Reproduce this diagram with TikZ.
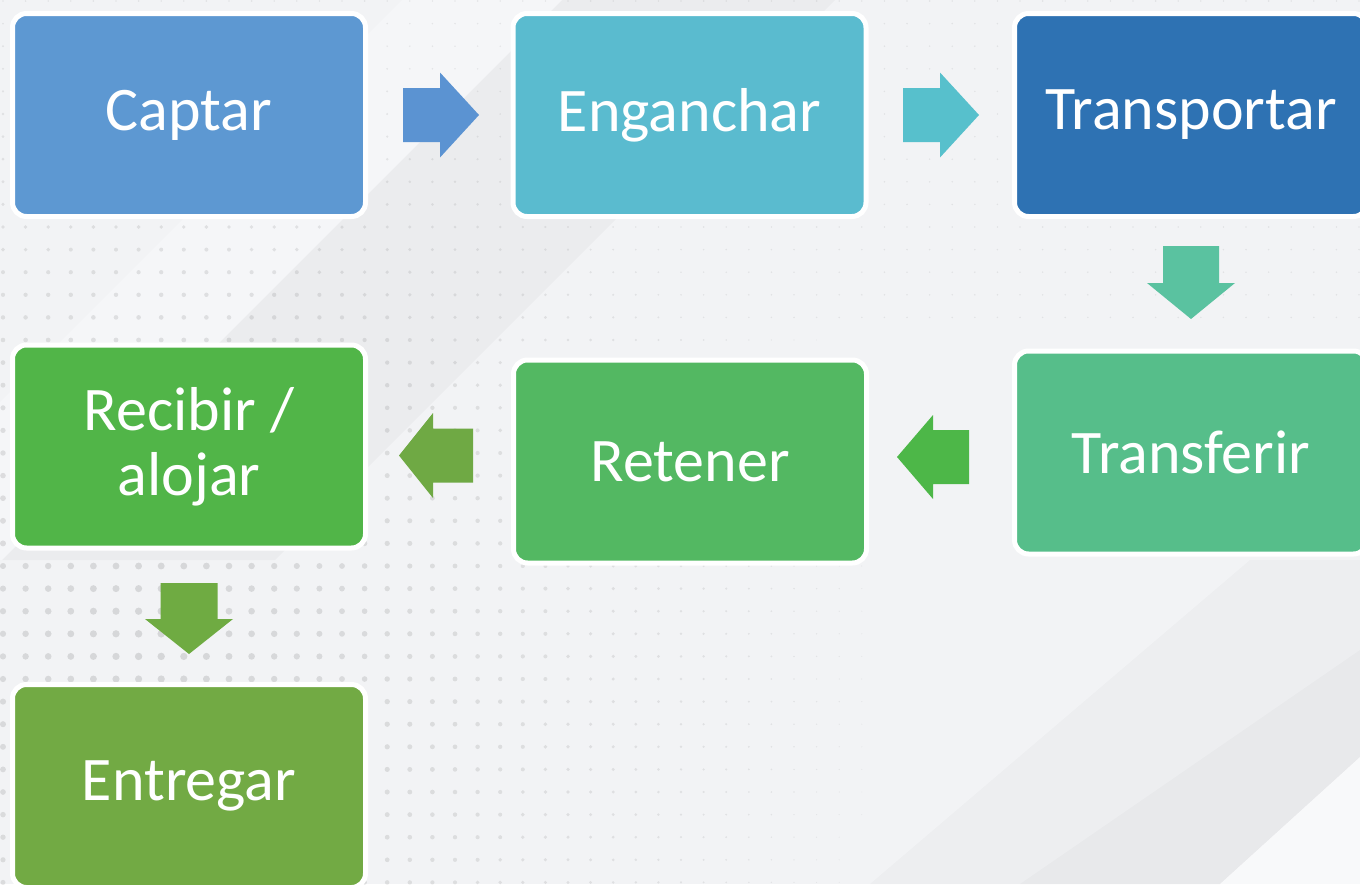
\documentclass[tikz,border=0pt]{standalone}
\usepackage{fontspec}
\setmainfont{Carlito}
\usetikzlibrary{calc}
\definecolor{bg}{HTML}{F2F3F5}
\definecolor{capC}{HTML}{5D98D2}
\definecolor{engC}{HTML}{5ABBCF}
\definecolor{traC}{HTML}{2E72B3}
\definecolor{trfC}{HTML}{56BE8A}
\definecolor{retC}{HTML}{53B862}
\definecolor{recC}{HTML}{51B548}
\definecolor{entC}{HTML}{72AA44}
\definecolor{arA}{HTML}{5B93D2}
\definecolor{arB}{HTML}{57C0CC}
\definecolor{arC}{HTML}{5AC2A0}
\definecolor{arD}{HTML}{4DB748}
\definecolor{arE}{HTML}{6FA944}
\definecolor{arF}{HTML}{6FAB42}
% #1 start, #2 tip, #3 colour, #4 shaft half width, #5 head half width, #6 head length
\newcommand\blockarrow[6]{%
  \coordinate (ba-n) at ($(#2)!#6pt!(#1)$);
  \fill[#3] ($(#1)!#4pt!90:(#2)$) -- ($(ba-n)!#4pt!-90:(#1)$) -- ($(ba-n)!#5pt!-90:(#1)$)
    -- (#2) -- ($(ba-n)!#5pt!90:(#1)$) -- ($(ba-n)!#4pt!90:(#1)$) -- ($(#1)!#4pt!-90:(#2)$) -- cycle;}
\begin{document}
\begin{tikzpicture}[x=1pt,y=-1pt,
  stepbox/.style={rectangle, rounded corners=14pt, draw=white, line width=5pt,
    minimum width=353pt, minimum height=203pt, text=white, inner sep=0pt,
    font=\fontsize{62}{65}\selectfont, align=center}]
\useasboundingbox (0,0) rectangle (1360,884);
\begin{scope}
\clip (0,0) rectangle (1360,884);
\fill[bg] (0,0) rectangle (1360,884);
% subtle diagonal bands
\fill[white, fill opacity=0.3] (402,0) -- (562,0) -- (2,560) -- (-158,560) -- cycle;
\fill[black, fill opacity=0.028] (562,0) -- (835,0) -- (275,560) -- (2,560) -- cycle;
\fill[black, fill opacity=0.02] (1250,560) -- (1360,560) -- (1360,757) -- (1220,884) -- (870,884) -- cycle;
\fill[black, fill opacity=0.02] (1360,650) -- (1360,757) -- (1220,884) -- (1020,884) -- cycle;
\fill[white, fill opacity=0.5] (1360,757) -- (1360,884) -- (1220,884) -- cycle;
% dot grid
\foreach \i in {0,...,60}{
  \foreach \j in {0,...,39}{
    \pgfmathsetmacro\xx{3+22.6*\i}
    \pgfmathsetmacro\yy{1+22.6*\j}
    \pgfmathsetmacro\dd{veclen(\xx-150,\yy-640)}
    \pgfmathsetmacro\rr{\yy<340 ? max(3.8-0.0045*\dd,0.9) : 3.8-0.0045*\dd}
    \pgfmathsetmacro\oo{0.05+0.018*\rr}
    \ifdim\rr pt>0.5pt
      \fill[black, fill opacity=\oo] (\xx,\yy) circle[radius=\rr pt];
    \fi
  }
}
% boxes
\node[stepbox, fill=capC] (cap) at (189,115) {Captar};
\node[stepbox, fill=engC] (eng) at (689.5,115) {Enganchar};
\node[stepbox, fill=traC] (tra) at (1191,115) {Transportar};
\node[stepbox, fill=trfC] (trf) at (1191,452.5) {Transferir};
\node[stepbox, fill=retC] (ret) at (690,461.5) {Retener};
\node[stepbox, fill=recC] (rec) at (189,446.5) {Recibir /\\alojar};
\node[stepbox, fill=entC] (ent) at (189,786) {Entregar};
% connectors (block arrows)
\coordinate (a1s) at ($(cap.east)+(35,0)$);
\coordinate (a1t) at ($(eng.west)+(-31.5,0)$);
\blockarrow{a1s}{a1t}{arA}{27}{42.5}{39}
\coordinate (a2s) at ($(eng.east)+(34.5,0)$);
\coordinate (a2t) at ($(tra.west)+(-33,0)$);
\blockarrow{a2s}{a2t}{arB}{27}{42.5}{39}
\coordinate (a3s) at ($(tra.south)+(0,27)$);
\coordinate (a3t) at ($(trf.north)+(0,-29.5)$);
\blockarrow{a3s}{a3t}{arC}{28}{44}{36}
\coordinate (a4s) at ($(trf.west)+(-43,4.5)$);
\coordinate (a4x) at ($(ret.east)+(28,0)$);
\coordinate (a4t) at (a4x |- a4s);
\blockarrow{a4s}{a4t}{arD}{27}{42}{36}
\coordinate (a5s) at ($(ret.west)+(-38,-6)$);
\coordinate (a5x) at ($(rec.east)+(31,0)$);
\coordinate (a5t) at (a5x |- a5s);
\blockarrow{a5s}{a5t}{arE}{27}{42.5}{34}
\coordinate (a6s) at ($(rec.south)+(0,32.5)$);
\coordinate (a6t) at ($(ent.north)+(0,-28)$);
\blockarrow{a6s}{a6t}{arF}{28.5}{44}{35}
\end{scope}
\end{tikzpicture}
\end{document}
